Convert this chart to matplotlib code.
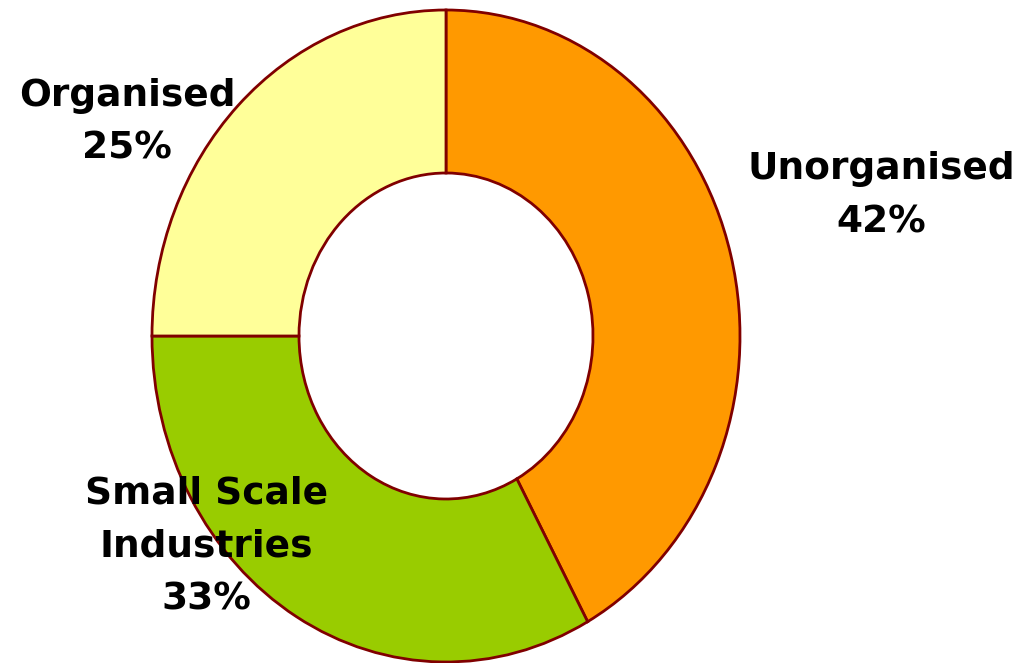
import matplotlib.pyplot as plt

labels = ['Unorganised', 'Small Scale\nIndustries', 'Organised']
shares = [42, 33, 25]
colors = ['#FF9900', '#99CC00', '#FFFF99']
# label centres in data units (pie radius = 1)
label_pos = [(1.48, 0.43), (-0.816, -0.645), (-1.085, 0.655)]

fig = plt.figure(figsize=(10.23, 6.63), dpi=100)
ax = fig.add_axes([152/1023, 1/663, 588/1023, 652/663])

ax.pie(shares, colors=colors, startangle=90, counterclock=False,
       radius=1.0,
       wedgeprops={'width': 0.5, 'edgecolor': '#800000', 'linewidth': 2.0})
ax.set_aspect('auto')
ax.set_xlim(-1.0, 1.0)
ax.set_ylim(-1.0, 1.0)
ax.axis('off')

for lab, val, (x, y) in zip(labels, shares, label_pos):
    ax.text(x, y, '%s\n%d%%' % (lab, val), ha='center', va='center',
            fontsize=27, fontweight='bold', family='DejaVu Sans',
            linespacing=1.6, color='black', clip_on=False)

fig.savefig('out.png', dpi=100)
